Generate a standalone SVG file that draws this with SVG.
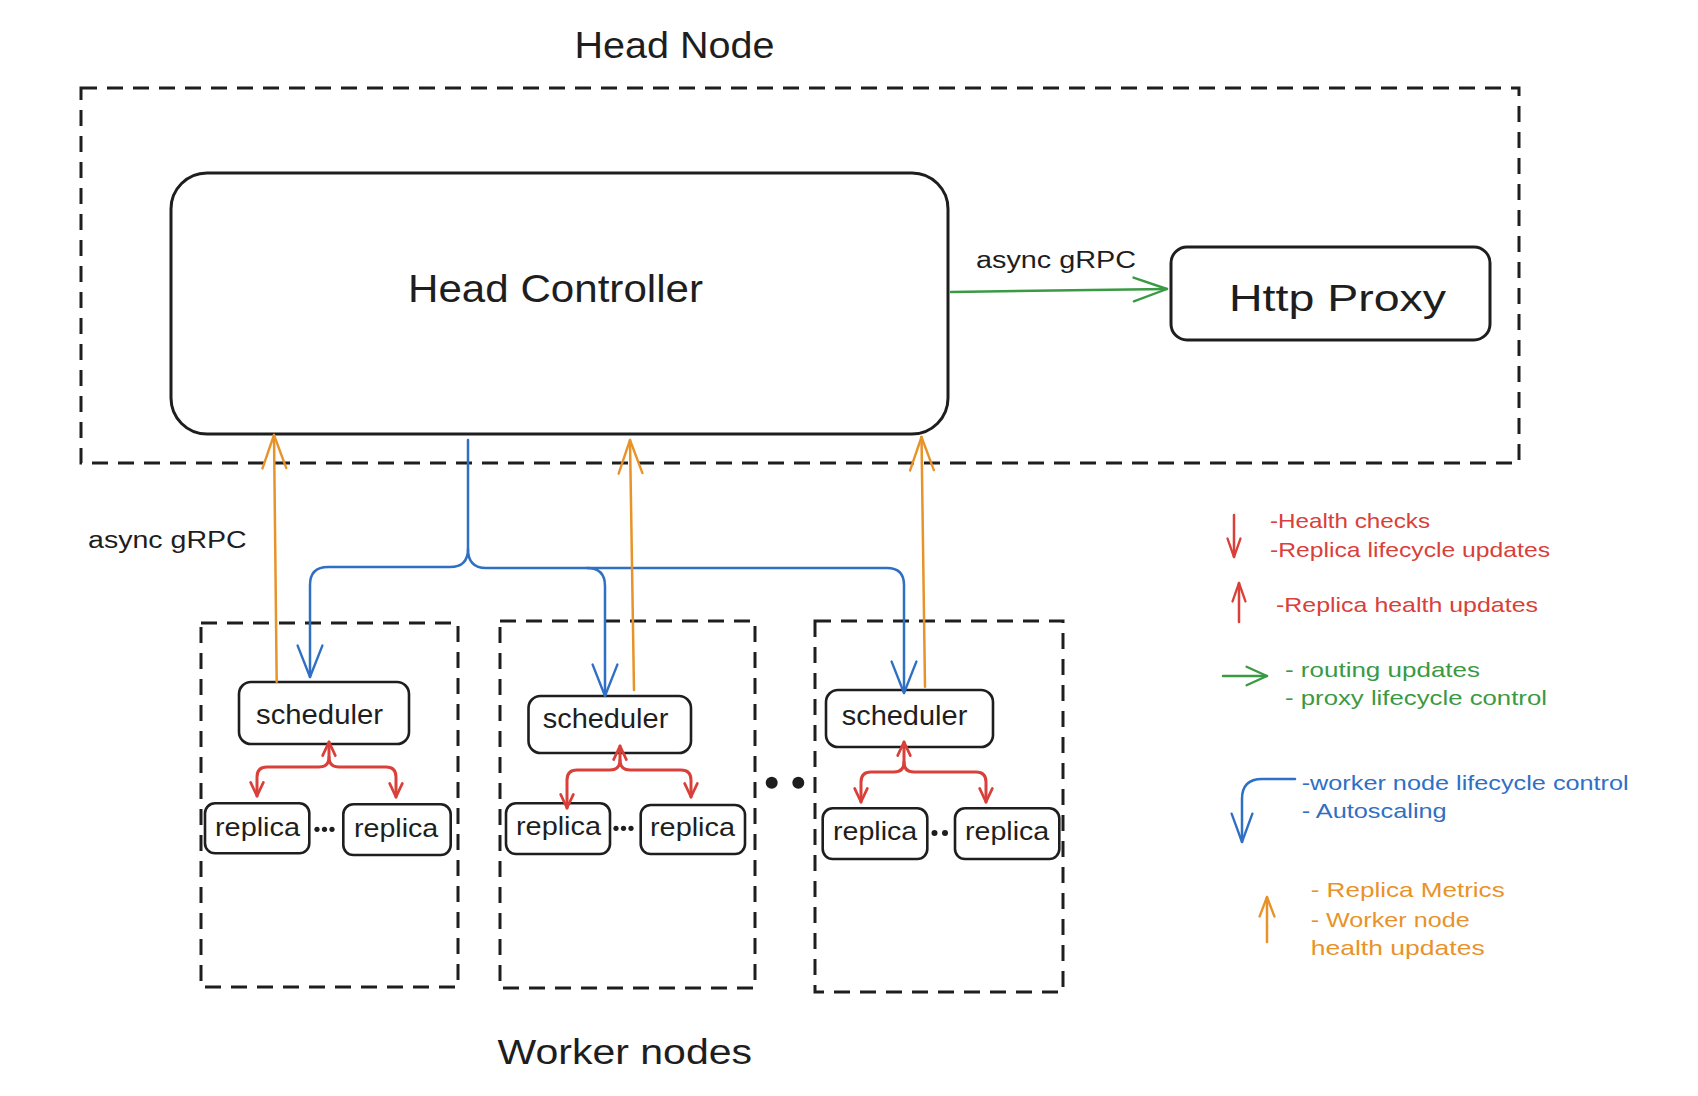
<svg xmlns="http://www.w3.org/2000/svg" width="1698" height="1096" viewBox="0 0 1698 1096">
<style>
.bg{fill:#ffffff}
.box{fill:#ffffff;stroke:#1e1e1e;stroke-width:3}
.box2{fill:#ffffff;stroke:#1e1e1e;stroke-width:2.6}
.dash{fill:none;stroke:#1e1e1e;stroke-width:3;stroke-dasharray:16 10}
.t{font-family:"Liberation Sans",Arial,sans-serif;fill:#1e1e1e}
.red{fill:#d9403a}
.green{fill:#3a9a44}
.blue{fill:#2f6fc4}
.orange{fill:#e8932a}
.cb{fill:none;stroke:#2f6fc4;stroke-width:2.5;stroke-linecap:round;stroke-linejoin:round}
.co{fill:none;stroke:#e8932a;stroke-width:2.5;stroke-linecap:round;stroke-linejoin:round}
.cg{fill:none;stroke:#3a9a44;stroke-width:2.5;stroke-linecap:round;stroke-linejoin:round}
.cr{fill:none;stroke:#d9403a;stroke-width:3;stroke-linecap:round;stroke-linejoin:round}
.crl{fill:none;stroke:#d9403a;stroke-width:2.5;stroke-linecap:round;stroke-linejoin:round}
</style>
<defs>
<marker id="mBlue" markerUnits="userSpaceOnUse" markerWidth="40" markerHeight="30" viewBox="-40 -15 42 30" refX="0" refY="0" orient="auto" style="overflow:visible"><path d="M-33,-13 L0,0 L-33,13" fill="none" stroke="#2f6fc4" stroke-width="2.5" stroke-linecap="round" stroke-linejoin="round"/></marker>
<marker id="mOrange" markerUnits="userSpaceOnUse" markerWidth="40" markerHeight="30" viewBox="-40 -15 42 30" refX="0" refY="0" orient="auto" style="overflow:visible"><path d="M-35,-12.5 L0,0 L-35,12.5" fill="none" stroke="#e8932a" stroke-width="2.5" stroke-linecap="round" stroke-linejoin="round"/></marker>
<marker id="mGreen" markerUnits="userSpaceOnUse" markerWidth="40" markerHeight="30" viewBox="-40 -15 42 30" refX="0" refY="0" orient="auto" style="overflow:visible"><path d="M-35,-12.5 L0,0 L-35,12.5" fill="none" stroke="#3a9a44" stroke-width="2.5" stroke-linecap="round" stroke-linejoin="round"/></marker>
<marker id="mRed" markerUnits="userSpaceOnUse" markerWidth="20" markerHeight="20" viewBox="-20 -10 22 20" refX="0" refY="0" orient="auto-start-reverse" style="overflow:visible"><path d="M-15,-7 L0,0 L-15,7" fill="none" stroke="#d9403a" stroke-width="3" stroke-linecap="round" stroke-linejoin="round"/></marker>
<marker id="mRedS" markerUnits="userSpaceOnUse" markerWidth="24" markerHeight="20" viewBox="-24 -10 26 20" refX="0" refY="0" orient="auto" style="overflow:visible"><path d="M-20,-7 L0,0 L-20,7" fill="none" stroke="#d9403a" stroke-width="2.5" stroke-linecap="round" stroke-linejoin="round"/></marker>
<marker id="mGreenS" markerUnits="userSpaceOnUse" markerWidth="26" markerHeight="24" viewBox="-26 -12 28 24" refX="0" refY="0" orient="auto" style="overflow:visible"><path d="M-22,-10 L0,0 L-22,10" fill="none" stroke="#3a9a44" stroke-width="2.5" stroke-linecap="round" stroke-linejoin="round"/></marker>
<marker id="mBlueS" markerUnits="userSpaceOnUse" markerWidth="34" markerHeight="26" viewBox="-34 -13 36 26" refX="0" refY="0" orient="auto" style="overflow:visible"><path d="M-30,-11 L0,0 L-30,11" fill="none" stroke="#2f6fc4" stroke-width="2.5" stroke-linecap="round" stroke-linejoin="round"/></marker>
<marker id="mOrangeS" markerUnits="userSpaceOnUse" markerWidth="26" markerHeight="20" viewBox="-26 -10 28 20" refX="0" refY="0" orient="auto" style="overflow:visible"><path d="M-21,-8 L0,0 L-21,8" fill="none" stroke="#e8932a" stroke-width="2.5" stroke-linecap="round" stroke-linejoin="round"/></marker>
</defs>
<rect class="bg" x="0" y="0" width="1698" height="1096"/>

<g id="head-node">
<rect class="dash" x="81" y="88" width="1438" height="375"/>
<text class="t" x="574.5" y="58" font-size="36" textLength="200" lengthAdjust="spacingAndGlyphs">Head Node</text>
</g>

<g id="head-controller">
<rect class="box" x="171" y="173" width="777" height="261" rx="36" ry="36" stroke-width="3.5"/>
<text class="t" x="408" y="302" font-size="38" textLength="295" lengthAdjust="spacingAndGlyphs">Head Controller</text>
</g>

<g id="http-proxy">
<rect class="box" x="1171" y="247" width="319" height="93" rx="16" ry="16"/>
<text class="t" x="1229" y="310.5" font-size="37" textLength="217" lengthAdjust="spacingAndGlyphs">Http Proxy</text>
</g>

<g id="worker-node-1">
<rect class="dash" x="201" y="623" width="257" height="364"/>
</g>
<g id="worker-node-2">
<rect class="dash" x="500" y="621" width="255" height="367"/>
</g>
<g id="worker-node-3">
<rect class="dash" x="815" y="621" width="248" height="371"/>
</g>

<g id="scheduler-1">
<rect class="box2" x="239" y="682" width="170" height="62" rx="12" ry="12"/>
<text class="t" x="256" y="724.3" font-size="28" textLength="127" lengthAdjust="spacingAndGlyphs">scheduler</text>
</g>
<g id="scheduler-2">
<rect class="box2" x="528.5" y="696" width="162.5" height="57" rx="12" ry="12"/>
<text class="t" x="542.7" y="728.3" font-size="28" textLength="125.6" lengthAdjust="spacingAndGlyphs">scheduler</text>
</g>
<g id="scheduler-3">
<rect class="box2" x="826" y="690" width="167" height="57" rx="12" ry="12"/>
<text class="t" x="841.7" y="725" font-size="28" textLength="125.6" lengthAdjust="spacingAndGlyphs">scheduler</text>
</g>

<g id="replica-1a">
<rect class="box2" x="205" y="803.3" width="104.3" height="50" rx="10" ry="10"/>
<text class="t" x="215" y="835.7" font-size="25" textLength="85" lengthAdjust="spacingAndGlyphs">replica</text>
</g>
<g id="replica-1b">
<rect class="box2" x="343.3" y="804.3" width="107.4" height="50.7" rx="10" ry="10"/>
<text class="t" x="354" y="836.5" font-size="25" textLength="84.3" lengthAdjust="spacingAndGlyphs">replica</text>
</g>
<g id="replica-2a">
<rect class="box2" x="506" y="803.3" width="104" height="50.7" rx="10" ry="10"/>
<text class="t" x="516" y="835" font-size="25" textLength="85" lengthAdjust="spacingAndGlyphs">replica</text>
</g>
<g id="replica-2b">
<rect class="box2" x="640.7" y="805" width="104.3" height="49" rx="10" ry="10"/>
<text class="t" x="650" y="835.5" font-size="25" textLength="85" lengthAdjust="spacingAndGlyphs">replica</text>
</g>
<g id="replica-3a">
<rect class="box2" x="822.7" y="808.3" width="104.6" height="50.7" rx="10" ry="10"/>
<text class="t" x="833" y="840" font-size="25" textLength="84.3" lengthAdjust="spacingAndGlyphs">replica</text>
</g>
<g id="replica-3b">
<rect class="box2" x="955" y="808.3" width="104.3" height="50.7" rx="10" ry="10"/>
<text class="t" x="965" y="840" font-size="25" textLength="84.3" lengthAdjust="spacingAndGlyphs">replica</text>
</g>

<g id="ellipses" fill="#1e1e1e">
<circle cx="317" cy="829.3" r="2.6"/><circle cx="324.5" cy="829.3" r="2.6"/><circle cx="332" cy="829.3" r="2.6"/>
<circle cx="616" cy="828.3" r="2.6"/><circle cx="623.5" cy="828.3" r="2.6"/><circle cx="631" cy="828.3" r="2.6"/>
<circle cx="934.5" cy="833" r="3"/><circle cx="945" cy="833" r="3"/>
<circle cx="771.7" cy="782.7" r="6"/><circle cx="798.3" cy="782.7" r="6"/>
</g>

<g id="labels">
<text class="t" x="976" y="268.4" font-size="23" textLength="160" lengthAdjust="spacingAndGlyphs">async gRPC</text>
<text class="t" x="88" y="547.7" font-size="23" textLength="158.7" lengthAdjust="spacingAndGlyphs">async gRPC</text>
<text class="t" x="497.5" y="1063.5" font-size="35" textLength="254.5" lengthAdjust="spacingAndGlyphs">Worker nodes</text>
</g>

<g id="connectors">
<path class="cg" d="M951,292 L1167,289" marker-end="url(#mGreen)"/>
<path class="cb" d="M468,440 L468,549 Q468,567 450,567 L328,567 Q310,567 310,585 L310,677" marker-end="url(#mBlue)"/>
<path class="cb" d="M468,549 Q468,568 486,568 L887,568 Q904,568 904,585 L904,693" marker-end="url(#mBlue)"/>
<path class="cb" d="M587,568 Q605,568 605,586 L605,696" marker-end="url(#mBlue)"/>
<path class="co" d="M276.7,681.7 L274,435" marker-end="url(#mOrange)"/>
<path class="co" d="M634,690 L630,440" marker-end="url(#mOrange)"/>
<path class="co" d="M925,686.7 L921.5,437" marker-end="url(#mOrange)"/>
<path class="cr" d="M329,742 L329,757 Q329,767 319,767 L267,767 Q257,767 257,777 L257,796" marker-start="url(#mRed)" marker-end="url(#mRed)"/>
<path class="cr" d="M329,757 Q329,767 339,767 L386,767 Q396,767 396,777 L396,797" marker-end="url(#mRed)"/>
<path class="cr" d="M620,746 L620,760 Q620,770 610,770 L577,770 Q567,770 567,780 L567,808" marker-start="url(#mRed)" marker-end="url(#mRed)"/>
<path class="cr" d="M620,760 Q620,770 630,770 L681,770 Q691,770 691,780 L691,797" marker-end="url(#mRed)"/>
<path class="cr" d="M904,742 L904,762 Q904,772 894,772 L871,772 Q861,772 861,782 L861,802" marker-start="url(#mRed)" marker-end="url(#mRed)"/>
<path class="cr" d="M904,762 Q904,772 914,772 L976,772 Q986,772 986,782 L986,802" marker-end="url(#mRed)"/>
</g>

<g id="legend">
<path class="crl" d="M1234,515 L1234,557" marker-end="url(#mRedS)"/>
<text class="t red" x="1270" y="528" font-size="21" textLength="160" lengthAdjust="spacingAndGlyphs">-Health checks</text>
<text class="t red" x="1270" y="556.7" font-size="21" textLength="280" lengthAdjust="spacingAndGlyphs">-Replica lifecycle updates</text>
<path class="crl" d="M1239,622 L1239,583" marker-end="url(#mRedS)"/>
<text class="t red" x="1276" y="611.7" font-size="21" textLength="262" lengthAdjust="spacingAndGlyphs">-Replica health updates</text>
<path class="cg" d="M1223,676 L1267,676" marker-end="url(#mGreenS)"/>
<text class="t green" x="1285" y="676.7" font-size="21" textLength="195" lengthAdjust="spacingAndGlyphs">- routing updates</text>
<text class="t green" x="1285" y="705" font-size="21" textLength="262" lengthAdjust="spacingAndGlyphs">- proxy lifecycle control</text>
<path class="cb" d="M1295,779 L1262,779 Q1242,779 1242,799 L1242,842" marker-end="url(#mBlueS)"/>
<text class="t blue" x="1301.7" y="790" font-size="21" textLength="327" lengthAdjust="spacingAndGlyphs">-worker node lifecycle control</text>
<text class="t blue" x="1301.7" y="818.3" font-size="21" textLength="145" lengthAdjust="spacingAndGlyphs">- Autoscaling</text>
<path class="co" d="M1267,942 L1267,897" marker-end="url(#mOrangeS)"/>
<text class="t orange" x="1310.7" y="896.7" font-size="21" textLength="194" lengthAdjust="spacingAndGlyphs">- Replica Metrics</text>
<text class="t orange" x="1310.7" y="926.7" font-size="21" textLength="159" lengthAdjust="spacingAndGlyphs">- Worker node</text>
<text class="t orange" x="1310.7" y="955" font-size="21" textLength="174" lengthAdjust="spacingAndGlyphs">health updates</text>
</g>
</svg>
